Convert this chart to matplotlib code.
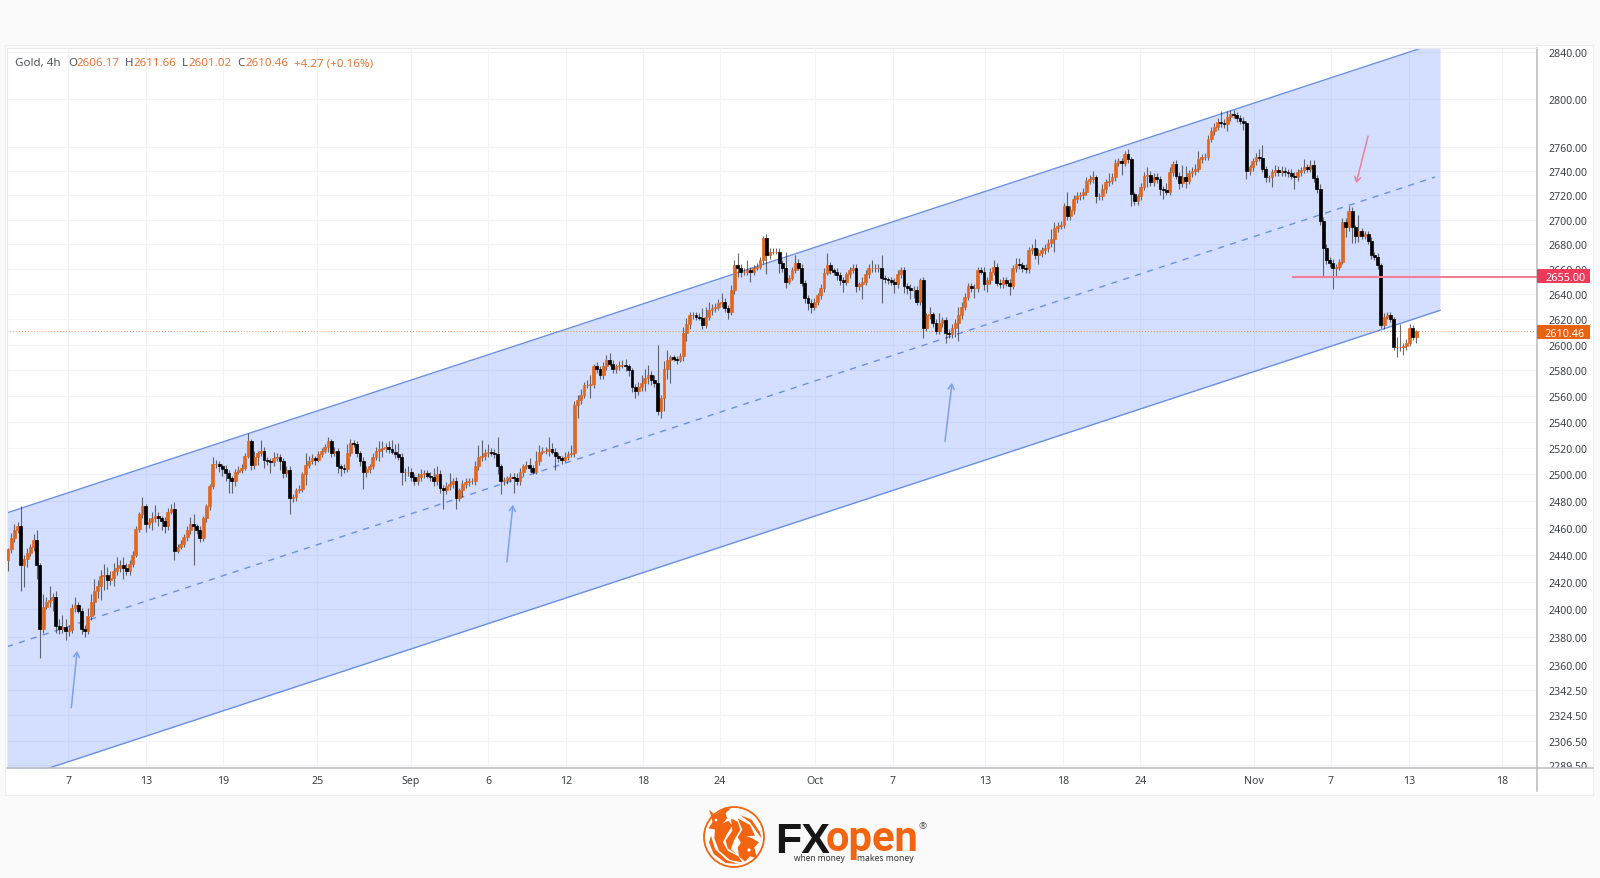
"""Gold 4h chart with a rising channel, drawn on a log price scale."""

import numpy as np
import matplotlib
matplotlib.use("Agg")
import matplotlib.pyplot as plt
from matplotlib.patches import Circle, Polygon, Rectangle
from matplotlib.ticker import FixedLocator, NullLocator
from matplotlib.transforms import Bbox, TransformedBbox

plt.rcParams['font.family'] = ['Noto Sans', 'DejaVu Sans']

first_open = 2436
closes = [
    2444, 2452, 2458, 2461, 2432, 2437, 2441, 2446, 2451, 2432,
    2386, 2402, 2405, 2407, 2409, 2388, 2386, 2387, 2384, 2385,
    2401, 2403, 2399, 2386, 2384, 2395, 2405, 2413, 2417, 2424,
    2425, 2421, 2423, 2428, 2430, 2432, 2430, 2428, 2433, 2440,
    2459, 2470, 2476, 2463, 2464, 2467, 2469, 2467, 2465, 2461,
    2472, 2474, 2443, 2446, 2448, 2453, 2458, 2463, 2461, 2458,
    2452, 2467, 2476, 2491, 2508, 2508, 2506, 2504, 2501, 2497,
    2495, 2502, 2503, 2505, 2514, 2525, 2507, 2513, 2516, 2518,
    2511, 2510, 2509, 2512, 2513, 2510, 2501, 2503, 2482, 2483,
    2488, 2489, 2500, 2507, 2510, 2512, 2511, 2515, 2518, 2521,
    2525, 2516, 2518, 2506, 2505, 2504, 2516, 2524, 2523, 2516,
    2510, 2502, 2504, 2506, 2513, 2518, 2519, 2520, 2521, 2519,
    2517, 2515, 2513, 2502, 2502, 2502, 2498, 2495, 2498, 2500,
    2501, 2499, 2498, 2495, 2500, 2490, 2488, 2491, 2493, 2495,
    2482, 2488, 2493, 2494, 2495, 2495, 2506, 2513, 2514, 2516,
    2517, 2516, 2515, 2506, 2495, 2496, 2497, 2498, 2497, 2495,
    2502, 2506, 2507, 2505, 2502, 2510, 2517, 2518, 2518, 2519,
    2517, 2514, 2512, 2511, 2513, 2515, 2516, 2553, 2557, 2561,
    2568, 2568, 2569, 2583, 2581, 2576, 2583, 2588, 2585, 2581,
    2583, 2584, 2584, 2583, 2580, 2567, 2564, 2567, 2570, 2574,
    2576, 2572, 2570, 2548, 2558, 2581, 2588, 2590, 2589, 2588,
    2591, 2609, 2616, 2623, 2623, 2622, 2621, 2615, 2622, 2627,
    2629, 2630, 2633, 2634, 2629, 2626, 2643, 2663, 2661, 2658,
    2658, 2659, 2658, 2661, 2662, 2667, 2685, 2671, 2674, 2674,
    2674, 2665, 2661, 2650, 2653, 2659, 2665, 2661, 2649, 2637,
    2633, 2630, 2634, 2639, 2645, 2657, 2663, 2659, 2658, 2655,
    2651, 2650, 2656, 2659, 2661, 2646, 2648, 2650, 2656, 2661,
    2661, 2661, 2661, 2653, 2652, 2651, 2650, 2648, 2656, 2659,
    2646, 2645, 2643, 2643, 2634, 2651, 2613, 2623, 2624, 2617,
    2611, 2617, 2619, 2609, 2608, 2613, 2617, 2623, 2630, 2638,
    2646, 2645, 2645, 2659, 2658, 2648, 2651, 2658, 2662, 2649,
    2648, 2651, 2649, 2646, 2661, 2664, 2663, 2661, 2660, 2675,
    2677, 2671, 2673, 2675, 2677, 2681, 2684, 2693, 2695, 2696,
    2711, 2703, 2708, 2717, 2719, 2720, 2723, 2732, 2733, 2735,
    2719, 2719, 2725, 2731, 2732, 2735, 2747, 2748, 2747, 2754,
    2750, 2721, 2715, 2719, 2727, 2736, 2737, 2731, 2735, 2733,
    2725, 2724, 2723, 2739, 2746, 2736, 2730, 2735, 2732, 2738,
    2740, 2742, 2750, 2752, 2752, 2767, 2773, 2777, 2781, 2780,
    2779, 2785, 2788, 2787, 2784, 2782, 2780, 2740, 2743, 2748,
    2752, 2751, 2742, 2735, 2735, 2739, 2741, 2739, 2740, 2739,
    2738, 2736, 2735, 2739, 2741, 2743, 2742, 2745, 2734, 2725,
    2699, 2677, 2667, 2665, 2661, 2662, 2666, 2698, 2694, 2707,
    2694, 2687, 2691, 2687, 2688, 2683, 2671, 2670, 2663, 2615,
    2622, 2623, 2620, 2598, 2598, 2598, 2599, 2601, 2613, 2606.17, 2610.46,
]
wick_up = [
    1, 4, 5, 3, 15, 3, 4, 2, 4, 7,
    2, 9, 4, 10, 3, 4, 5, 9, 6, 4,
    3, 6, 2, 2, 3, 6, 6, 9, 4, 5,
    8, 6, 5, 6, 8, 4, 6, 4, 3, 3,
    2, 2, 7, 2, 3, 5, 8, 3, 2, 3,
    3, 4, 5, 2, 3, 2, 3, 5, 7, 2,
    3, 2, 2, 2, 5, 3, 2, 2, 3, 2,
    2, 2, 3, 3, 2, 6, 2, 5, 2, 8,
    3, 2, 2, 5, 3, 2, 2, 3, 3, 2,
    2, 3, 2, 9, 4, 3, 2, 3, 2, 2,
    3, 2, 3, 2, 2, 3, 7, 3, 2, 2,
    2, 3, 2, 2, 3, 3, 6, 5, 3, 4,
    7, 6, 9, 3, 3, 4, 3, 2, 3, 4,
    2, 2, 3, 7, 6, 3, 2, 3, 8, 2,
    3, 2, 3, 3, 2, 2, 4, 9, 12, 3,
    6, 3, 3, 13, 2, 2, 2, 3, 3, 4,
    3, 2, 3, 5, 2, 8, 5, 3, 3, 9,
    5, 3, 2, 2, 4, 3, 6, 3, 4, 4,
    3, 4, 7, 2, 3, 2, 3, 4, 5, 3,
    2, 3, 4, 5, 2, 2, 2, 4, 6, 7,
    8, 3, 4, 30, 3, 6, 8, 2, 2, 2,
    2, 5, 5, 3, 3, 3, 3, 8, 8, 7,
    3, 3, 3, 7, 3, 2, 4, 4, 10, 3,
    3, 8, 3, 2, 3, 3, 2, 3, 3, 3,
    3, 3, 2, 13, 2, 3, 6, 3, 3, 2,
    2, 3, 3, 2, 3, 4, 10, 3, 2, 3,
    3, 3, 2, 3, 3, 3, 2, 4, 3, 3,
    6, 3, 3, 10, 2, 2, 3, 3, 3, 3,
    3, 3, 3, 3, 3, 2, 3, 2, 6, 2,
    3, 8, 3, 3, 3, 3, 3, 7, 4, 3,
    3, 3, 3, 3, 3, 4, 3, 3, 5, 3,
    3, 3, 3, 3, 2, 5, 5, 3, 3, 3,
    3, 7, 3, 3, 3, 3, 8, 5, 3, 3,
    3, 12, 3, 3, 4, 3, 3, 3, 4, 5,
    2, 3, 4, 2, 6, 3, 3, 3, 3, 3,
    4, 2, 2, 2, 3, 3, 6, 3, 3, 3,
    3, 3, 6, 4, 2, 3, 3, 10, 9, 3,
    3, 4, 7, 2, 3, 3, 4, 3, 3, 9,
    3, 5, 3, 3, 2, 3, 3, 2, 2, 3,
    3, 6, 11, 2, 2, 3, 4, 3, 4, 3,
    3, 4, 3, 3, 2, 7, 3, 4, 4, 3,
    4, 3, 3, 3, 3, 2, 2, 3, 3, 4,
    3, 2, 13, 2, 3, 3, 3, 3, 3, 2,
    3, 3, 3, 2, 8, 18, 2, 3, 3, 2, 1.2,
]
wick_dn = [
    8, 3, 3, 2, 19, 16, 6, 2, 3, 10,
    21, 3, 2, 3, 8, 5, 4, 3, 6, 3,
    2, 3, 2, 4, 4, 2, 3, 9, 5, 10,
    10, 6, 3, 6, 3, 3, 8, 3, 3, 2,
    2, 2, 3, 6, 3, 6, 3, 6, 7, 5,
    3, 2, 7, 2, 2, 2, 3, 3, 29, 3,
    3, 2, 3, 3, 2, 3, 4, 5, 6, 11,
    9, 4, 2, 2, 2, 2, 4, 3, 6, 2,
    6, 3, 8, 3, 2, 7, 4, 3, 12, 3,
    3, 2, 2, 8, 2, 2, 4, 2, 2, 2,
    4, 3, 2, 5, 6, 3, 2, 2, 2, 3,
    4, 13, 4, 3, 2, 2, 8, 6, 3, 3,
    2, 3, 2, 10, 7, 3, 3, 3, 3, 3,
    3, 2, 3, 4, 3, 4, 14, 3, 3, 3,
    8, 2, 5, 3, 3, 2, 3, 3, 3, 3,
    3, 2, 3, 6, 10, 3, 3, 3, 11, 3,
    3, 3, 2, 3, 2, 2, 3, 2, 3, 4,
    2, 11, 3, 3, 2, 2, 2, 3, 10, 3,
    3, 2, 10, 3, 3, 3, 3, 3, 2, 3,
    3, 3, 2, 4, 5, 4, 6, 3, 3, 6,
    5, 4, 3, 3, 5, 10, 8, 18, 2, 3,
    2, 4, 6, 4, 3, 3, 2, 3, 2, 3,
    4, 3, 3, 3, 3, 6, 3, 3, 7, 4,
    3, 3, 8, 3, 2, 2, 3, 15, 3, 2,
    2, 8, 3, 5, 2, 2, 2, 2, 3, 4,
    6, 5, 3, 3, 3, 3, 2, 3, 3, 4,
    4, 8, 3, 3, 2, 4, 3, 12, 3, 3,
    3, 3, 3, 20, 3, 3, 3, 7, 3, 3,
    5, 5, 7, 6, 3, 3, 8, 2, 3, 3,
    3, 3, 3, 8, 3, 3, 7, 14, 3, 3,
    3, 3, 8, 3, 2, 5, 6, 3, 3, 3,
    3, 3, 3, 7, 2, 3, 3, 3, 3, 3,
    3, 3, 7, 3, 3, 3, 3, 10, 3, 3,
    3, 3, 3, 3, 3, 3, 3, 3, 3, 3,
    5, 3, 3, 3, 3, 3, 3, 3, 10, 3,
    3, 10, 3, 3, 3, 3, 9, 3, 3, 3,
    5, 7, 3, 3, 3, 3, 5, 3, 6, 3,
    3, 3, 3, 3, 3, 3, 3, 3, 3, 3,
    3, 6, 3, 3, 3, 3, 6, 7, 3, 3,
    3, 3, 3, 4, 4, 8, 3, 3, 3, 3,
    3, 3, 10, 3, 3, 3, 3, 3, 3, 3,
    3, 23, 3, 3, 17, 7, 3, 2, 8, 3,
    13, 6, 5, 3, 3, 3, 3, 3, 3, 2,
    3, 2, 2, 2, 8, 3, 6, 3, 2, 3, 5.15,
]

# channel anchors, (bar index, price)
upper_line = ([-0.3, 447.5], [2471, 2849])
middle_line = ([-0.3, 445.9], [2373, 2735])
lower_line = ([-0.3, 447.5], [2278, 2627])

support_level = 2653.5
support_start = 401.6
last_price = 2610.46

# arrows, (bar, price) tail then head
blue_arrows = [
    ((19.8, 2329.6), (21.6, 2370)),
    ((155.9, 2434.6), (157.8, 2477)),
    ((292.8, 2525), (295, 2570)),
]
red_arrow = ((425, 2769), (421.3, 2730))

price_ticks = [2840, 2800, 2760, 2740, 2720, 2700, 2680, 2660, 2640, 2620, 2600,
               2580, 2560, 2540, 2520, 2500, 2480, 2460, 2440, 2420, 2400, 2380,
               2360, 2342.5, 2324.5, 2306.5, 2289.5]
date_ticks = [18.9, 43.1, 67.2, 96.6, 125.9, 150, 174.4, 198.4, 222.5, 252.3, 276.5,
              305.3, 329.7, 353.8, 389.4, 413.4, 437.8, 466.8]
date_labels = ['7', '13', '19', '25', 'Sep', '6', '12', '18', '24', 'Oct', '7',
               '13', '18', '24', 'Nov', '7', '13', '18']

ORANGE = '#e2671f'
BLUE = '#6a90e4'
RED = '#ee7f95'
GRID = '#f1f3f6'
TEXT = '#3c4048'

W, H = 1600, 879
fig = plt.figure(figsize=(W / 100, H / 100), dpi=100, facecolor='#fafafb')
fig.add_artist(Rectangle((5 / W, 1 - 796 / H), 1588 / W, 750 / H, transform=fig.transFigure,
                         facecolor='white', edgecolor='#eceef1', lw=0.8, zorder=-1))

ax = fig.add_axes([7 / W, 1 - 769 / H, 1530 / W, 720 / H])
ax.set_yscale('log')
ax.set_xlim(-0.3, 477.8)
ax.set_ylim(2287.6, 2843.8)
ax.set_axisbelow(True)

closes = np.array(closes, dtype=float)
opens = np.concatenate(([first_open], closes[:-1]))
highs = np.maximum(opens, closes) + np.array(wick_up, dtype=float)
lows = np.minimum(opens, closes) - np.array(wick_dn, dtype=float)
bars = np.arange(len(closes))
rising = closes >= opens

# channel
ax.fill_between(upper_line[0], upper_line[1], lower_line[1], color='#2962ff', alpha=0.2, lw=0, zorder=1)
ax.plot(*upper_line, color=BLUE, lw=1.0, zorder=2)
ax.plot(*lower_line, color=BLUE, lw=1.0, zorder=2)
ax.plot(*middle_line, color=BLUE, lw=1.0, dashes=(4.5, 4.5), zorder=2)

# candles
ax.vlines(bars, lows, highs, color='#3a3a3a', lw=0.8, alpha=0.75, zorder=3)
ax.bar(bars[rising], (closes - opens)[rising], bottom=opens[rising], width=0.92,
       color=ORANGE, edgecolor=ORANGE, lw=0.5, zorder=4)
ax.bar(bars[~rising], (opens - closes)[~rising], bottom=closes[~rising], width=0.92,
       color='black', edgecolor='black', lw=0.5, zorder=4)

ax.axhline(last_price, color=ORANGE, lw=0.7, ls=(0, (1, 2)), alpha=0.7, zorder=2)
ax.plot([support_start, 477.8], [support_level, support_level], color=RED, lw=1.5, zorder=5)

for tail, head in blue_arrows:
    ax.annotate('', xy=head, xytext=tail, zorder=5,
                arrowprops=dict(arrowstyle='->,head_length=0.35,head_width=0.22', color='#7ba0ee', lw=1.1,
                                shrinkA=0, shrinkB=0))
ax.annotate('', xy=red_arrow[1], xytext=red_arrow[0], zorder=5,
            arrowprops=dict(arrowstyle='->,head_length=0.35,head_width=0.22', color=RED, lw=1.1,
                            shrinkA=0, shrinkB=0))

# axes furniture
ax.yaxis.tick_right()
ax.yaxis.set_major_locator(FixedLocator(price_ticks))
ax.yaxis.set_minor_locator(NullLocator())
ax.set_yticklabels([f'{p:.2f}' for p in price_ticks])
ax.set_xticks(date_ticks)
ax.set_xticklabels(date_labels)
ax.tick_params(axis='both', length=0, labelsize=7.6, labelcolor=TEXT)
ax.tick_params(axis='y', pad=8)
ax.tick_params(axis='x', pad=5)
ax.grid(True, color=GRID, lw=0.8)
for side in ['left', 'top']:
    ax.spines[side].set_color('#e8eaee')
    ax.spines[side].set_linewidth(0.8)
for side in ['right', 'bottom']:
    ax.spines[side].set_color('#b9bbbf')
    ax.spines[side].set_linewidth(1.1)

# the lowest price label is cut by the time scale
label_clip = TransformedBbox(Bbox([[0, 1 - 769 / H], [1, 1]]), fig.transFigure)
for lab in ax.get_yticklabels():
    lab.set_clip_on(True)
    lab.set_clip_box(label_clip)

# overlay in pixels for tags, header and logo
top = fig.add_axes([0, 0, 1, 1], facecolor='none', zorder=5)
top.set_xlim(0, W)
top.set_ylim(H, 0)
top.axis('off')

top.plot([1537, 1537], [769, 792], color='#b9bbbf', lw=1.1)
top.plot([1537, 1593], [769, 769], color='#b9bbbf', lw=1.1)
top.add_patch(Rectangle((1537, 270), 53, 14, facecolor='#ee3a5a', edgecolor='none'))
top.text(1565, 277, '2655.00', color='white', fontsize=7.8, fontweight='bold', ha='center', va='center_baseline')
top.add_patch(Rectangle((1537, 326), 53, 14, facecolor='#e8620f', edgecolor='none'))
top.text(1565, 333, '2610.46', color='white', fontsize=7.8, fontweight='bold', ha='center', va='center_baseline')

header = [(15, 'Gold, 4h', TEXT), (68, 'O', TEXT), (76, '2606.17', ORANGE), (125, 'H', TEXT),
          (133, '2611.66', ORANGE), (182, 'L', TEXT), (188, '2601.02', ORANGE), (237, 'C', TEXT),
          (245, '2610.46', ORANGE), (294, '+4.27 (+0.16%)', ORANGE)]
for x, label, colour in header:
    top.text(x, 62, label, color=colour, fontsize=8.3, ha='left', va='center_baseline', alpha=0.9)


def crop_poly(points, **kwargs):
    return Polygon([(695 + x / 3, 800 + y / 3) for x, y in points], closed=True, edgecolor='none', **kwargs)


# logo
LOGO = '#f2640f'
top.add_patch(Circle((734, 838), 30, facecolor='white', edgecolor=LOGO, lw=1.3))
logo_shapes = [
    # left body lobe
    [(60, 85), (100, 65), (112, 80), (96, 105), (84, 130), (98, 155), (130, 172), (142, 190),
     (105, 183), (72, 155), (58, 118)],
    # centre lobe
    [(108, 58), (128, 68), (136, 92), (118, 122), (108, 150), (124, 165), (98, 148), (92, 125), (112, 95)],
    # right lobe
    [(128, 58), (165, 78), (180, 110), (150, 112), (140, 135), (128, 115), (142, 92)],
    # top left head
    [(42, 32), (60, 48), (72, 40), (88, 28), (108, 28), (92, 42), (96, 58), (82, 76), (62, 92),
     (40, 88), (52, 70), (50, 55)],
    # bottom right head
    [(150, 110), (172, 118), (192, 130), (178, 145), (186, 178), (165, 172), (150, 188), (132, 172),
     (128, 145), (140, 128)],
    # lower left crescent
    [(48, 110), (60, 150), (95, 183), (130, 195), (92, 192), (56, 165), (42, 130)],
    # upper right crescent
    [(135, 48), (170, 62), (195, 100), (200, 118), (186, 100), (165, 70)],
]
for shape in logo_shapes:
    top.add_patch(crop_poly(shape, facecolor=LOGO))
top.add_patch(Circle((716, 821), 1.4, facecolor='white', edgecolor='none'))
top.add_patch(Circle((749, 851), 1.6, facecolor='white', edgecolor='none'))
top.text(775, 838, 'FX', color='#161616', fontsize=31, fontweight='bold', family='Liberation Sans',
         ha='left', va='center_baseline')
top.text(826, 835, 'open', color=LOGO, fontsize=30, fontweight='bold', family='Roboto',
         ha='left', va='center_baseline')
top.text(794, 859, 'when money', color='#333333', fontsize=6, ha='left', va='center')
top.text(857, 859, 'makes money', color='#333333', fontsize=6.2, ha='left', va='center')
top.text(923, 827, '®', color='#555555', fontsize=7, ha='center', va='center')

fig.savefig('out.png', dpi=100, facecolor=fig.get_facecolor())
